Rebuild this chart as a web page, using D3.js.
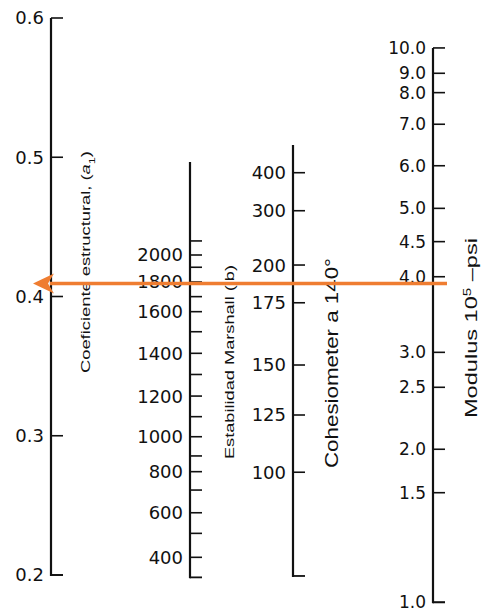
<!DOCTYPE html>
<html>
<head>
<meta charset="utf-8">
<script src="https://cdn.jsdelivr.net/npm/d3@7"></script>
<style>
  body { margin: 0; background: #fff; }
  text { fill: #111; }
</style>
</head>
<body>
<div id="chart"></div>
<script>
// structural coefficient scale (a1) - the reference scale of the nomograph
const a1Ticks = [0.6, 0.5, 0.4, 0.3, 0.2];
const a1Extent = [0.2, 0.6];

// Marshall stability (lb), with the a1 value each mark lines up with
const marshallValues = [2100, 2000, 1900, 1800, 1700, 1600, 1500, 1400, 1300, 1200, 1100, 1000, 900, 800, 700, 600, 500, 400];
const marshallA1 = [0.4399, 0.4298, 0.421, 0.4104, 0.3999, 0.3891, 0.3747, 0.3592, 0.344, 0.3285, 0.3137, 0.2993, 0.2855, 0.2742, 0.261, 0.2447, 0.2299, 0.2127];
const marshallLabels = [2000, 1800, 1600, 1400, 1200, 1000, 800, 600, 400];
const marshallExtent = [0.1983, 0.4966];

// Cohesiometer at 140 F
const cohesionValues = [400, 300, 200, 175, 150, 125, 100];
const cohesionA1 = [0.4889, 0.4616, 0.4226, 0.3955, 0.3508, 0.3149, 0.2738];
const cohesionExtent = [0.1993, 0.5088];

// Modulus 10^5 psi
const modulusLabels = ["10.0", "9.0", "8.0", "7.0", "6.0", "5.0", "4.5", "4.0", "3.0", "2.5", "2.0", "1.5", "1.0"];
const modulusA1 = [0.5785, 0.5603, 0.5464, 0.5237, 0.4939, 0.4633, 0.4394, 0.4142, 0.3599, 0.3348, 0.2903, 0.2591, 0.1804];

// reading shown with the arrow
const arrowA1 = 0.4093;

const svgWidth = 484;
const svgHeight = 611;
const ink = "#111";
const tickLen = 12;
const labelFont = "DejaVu Sans, sans-serif";

const svg = d3
  .select("#chart")
  .append("svg")
  .attr("width", svgWidth)
  .attr("height", svgHeight);

const yScale = d3.scaleLinear().domain([0.2, 0.6]).range([575, 18]);

const xScale = d3
  .scaleOrdinal()
  .domain(["a1", "marshall", "cohesion", "modulus"])
  .range([51, 190, 293, 433]);

// draws one vertical scale: line, ticks on the right, labels on the left
function drawScale(key, extent, tickA1, labels, labelA1, fontSize) {
  const x = xScale(key);
  const g = svg.append("g").attr("class", "scale-" + key);

  g.append("line")
    .attr("x1", x)
    .attr("x2", x)
    .attr("y1", yScale(extent[0]) + 1)
    .attr("y2", yScale(extent[1]))
    .attr("stroke", ink)
    .attr("stroke-width", 2.2);

  // closing tick at the bottom end
  g.append("line")
    .attr("x1", x)
    .attr("x2", x + tickLen)
    .attr("y1", yScale(extent[0]))
    .attr("y2", yScale(extent[0]))
    .attr("stroke", ink)
    .attr("stroke-width", 1.8);

  g.selectAll(".tick")
    .data(tickA1)
    .enter()
    .append("line")
    .attr("class", "tick")
    .attr("x1", x)
    .attr("x2", x + tickLen)
    .attr("y1", (d) => yScale(d))
    .attr("y2", (d) => yScale(d))
    .attr("stroke", ink)
    .attr("stroke-width", 1.6);

  g.selectAll(".lbl")
    .data(labels)
    .enter()
    .append("text")
    .attr("class", "lbl")
    .attr("x", x - 7)
    .attr("y", (d, i) => yScale(labelA1[i]))
    .attr("dy", "0.36em")
    .attr("text-anchor", "end")
    .style("font-family", labelFont)
    .style("font-size", fontSize + "px")
    .text((d) => d);
}

drawScale("a1", a1Extent, a1Ticks, a1Ticks.map((d) => d.toFixed(1)), a1Ticks, 18);

const marshallLabelA1 = marshallLabels.map((v) => marshallA1[marshallValues.indexOf(v)]);
drawScale("marshall", marshallExtent, marshallA1, marshallLabels, marshallLabelA1, 18);

drawScale("cohesion", cohesionExtent, cohesionA1, cohesionValues, cohesionA1, 18);

drawScale(
  "modulus",
  [modulusA1[modulusA1.length - 1], modulusA1[0]],
  modulusA1,
  modulusLabels,
  modulusA1,
  17
);

// rotated axis titles
function title(x, yMid, len, size) {
  return svg
    .append("text")
    .attr("transform", `translate(${x},${yMid}) rotate(-90)`)
    .attr("text-anchor", "middle")
    .attr("textLength", len)
    .attr("lengthAdjust", "spacingAndGlyphs")
    .style("font-family", "Liberation Sans, Arial, sans-serif")
    .style("font-size", size + "px");
}

const t1 = title(xScale("a1") + 39, 262, 222, 13);
t1.append("tspan").text("Coeficiente estructural,  (");
t1.append("tspan").style("font-style", "italic").text("a");
t1.append("tspan").attr("baseline-shift", "sub").style("font-size", "9px").text("1");
t1.append("tspan").text(")");

title(xScale("marshall") + 44, 362, 194, 13).text("Estabilidad Marshall  (lb)");

title(xScale("cohesion") + 45, 363, 210, 18).text("Cohesiometer a  140°");

const t4 = title(xScale("modulus") + 44, 328, 180, 17);
t4.append("tspan").text("Modulus   10");
t4.append("tspan").attr("baseline-shift", "super").style("font-size", "11px").text("5");
t4.append("tspan").text(" –psi");

// orange reading arrow from the modulus scale to the a1 scale
const arrowColor = "#ef7d31";
const ay = yScale(arrowA1);
const tipX = xScale("a1") - 18;
const headLen = 21;

svg
  .append("line")
  .attr("x1", xScale("modulus") + 14)
  .attr("x2", tipX + headLen - 4)
  .attr("y1", ay)
  .attr("y2", ay)
  .attr("stroke", arrowColor)
  .attr("stroke-width", 3.5);

svg
  .append("path")
  .attr(
    "d",
    `M${tipX},${ay} L${tipX + headLen},${ay - 10} L${tipX + headLen - 6},${ay} L${tipX + headLen},${ay + 10} Z`
  )
  .attr("fill", arrowColor);
</script>
</body>
</html>
